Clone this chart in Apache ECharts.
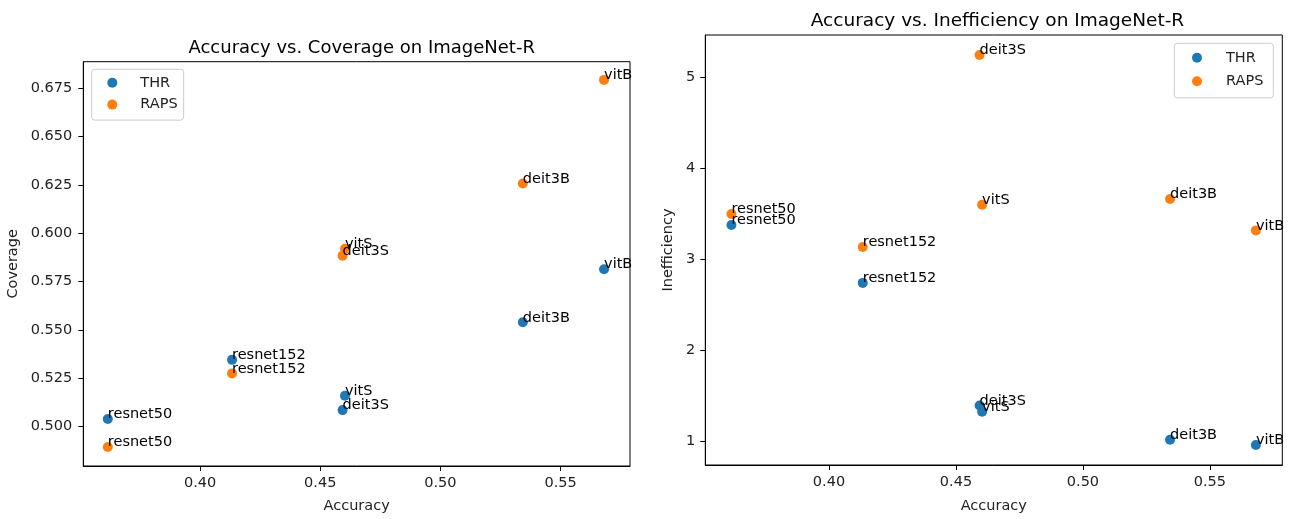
<!DOCTYPE html>
<html>
<head>
<meta charset="utf-8">
<script src="https://cdn.jsdelivr.net/npm/echarts@6/dist/echarts.min.js"></script>
<style>
html,body{margin:0;padding:0;background:#fff;}
#chart{width:1292px;height:519px;}
</style>
</head>
<body>
<div id="chart"></div>
<script>
// ---- data ----
const models = ['resnet50', 'resnet152', 'deit3S', 'vitS', 'deit3B', 'vitB'];
const accuracy = [0.3616, 0.4133, 0.4593, 0.4603, 0.5343, 0.5681];
const coverageTHR = [0.5039, 0.5345, 0.5085, 0.5159, 0.5539, 0.5814];
const coverageRAPS = [0.4894, 0.5275, 0.5884, 0.5919, 0.6257, 0.6793];
const ineffTHR = [3.375, 2.739, 1.392, 1.323, 1.015, 0.956];
const ineffRAPS = [3.496, 3.134, 5.245, 3.598, 3.661, 3.316];
const methods = ['THR', 'RAPS'];
const xTicks = [0.40, 0.45, 0.50, 0.55];
const xTickLabels = ['0.40', '0.45', '0.50', '0.55'];
const covTicks = [0.500, 0.525, 0.550, 0.575, 0.600, 0.625, 0.650, 0.675];
const covTickLabels = ['0.500', '0.525', '0.550', '0.575', '0.600', '0.625', '0.650', '0.675'];
const ineffTicks = [1, 2, 3, 4, 5];
const ineffTickLabels = ['1', '2', '3', '4', '5'];
const titles = ['Accuracy vs. Coverage on ImageNet-R', 'Accuracy vs. Inefficiency on ImageNet-R'];

// ---- styles ----
const FONT = 'DejaVu Sans';
const TICK_FS = 14.5;
const colors = ['#1f77b4', '#ff7f0e'];

function pts(ys) { return accuracy.map((a, i) => [a, ys[i], models[i]]); }
function mapLabel(ticks, labels) {
  return v => { for (let i = 0; i < ticks.length; i++) if (Math.abs(ticks[i] - v) < 1e-9) return labels[i]; return ''; };
}
function valueAxis(extra, ticks, labels, margin) {
  return Object.assign({
    type: 'value',
    scale: true,
    splitLine: { show: false },
    axisLine: { show: true, onZero: false, lineStyle: { color: '#000', width: 1 } },
    axisTick: { show: true, length: 5, lineStyle: { color: '#000' }, customValues: ticks },
    axisLabel: { customValues: ticks, formatter: mapLabel(ticks, labels), color: '#222',
      fontFamily: FONT, fontSize: TICK_FS, margin: margin },
    nameTextStyle: { color: '#222', fontFamily: FONT, fontSize: TICK_FS }
  }, extra);
}
function scatter(name, idx, data, color) {
  return {
    name: name, type: 'scatter', xAxisIndex: idx, yAxisIndex: idx,
    symbol: 'circle', symbolSize: 10,
    itemStyle: { color: color, opacity: 1 },
    data: data,
    label: {
      show: true, formatter: p => p.data[2],
      position: [5, 8], align: 'left', verticalAlign: 'bottom',
      color: '#000', fontFamily: FONT, fontSize: TICK_FS
    },
    emphasis: { disabled: true }
  };
}

const chart = echarts.init(document.getElementById('chart'), null, { renderer: 'canvas' });
chart.setOption({
  backgroundColor: '#fff',
  animation: false,
  title: [
    { text: titles[0], left: 356.7, top: 34, textAlign: 'center',
      textStyle: { fontFamily: FONT, fontSize: 18, fontWeight: 'normal', color: '#000' } },
    { text: titles[1], left: 992.5, top: 7, textAlign: 'center',
      textStyle: { fontFamily: FONT, fontSize: 18.5, fontWeight: 'normal', color: '#000' } }
  ],
  legend: [
    { data: methods, left: 91.7, top: 69.3, orient: 'vertical', icon: 'circle',
      itemWidth: 10, itemHeight: 17, itemGap: 6.8,
      padding: [6, 6, 8, 15.6], borderColor: '#cccccc', borderWidth: 1, borderRadius: 3,
      backgroundColor: '#fff',
      textStyle: { fontFamily: FONT, fontSize: TICK_FS, color: '#222', padding: [0, 0, 0, 18] } },
    { data: methods, left: 1174.3, top: 43.3, orient: 'vertical', icon: 'circle',
      itemWidth: 10, itemHeight: 17, itemGap: 8.5,
      padding: [7, 10, 9, 17.7], borderColor: '#cccccc', borderWidth: 1, borderRadius: 3,
      backgroundColor: '#fff',
      textStyle: { fontFamily: FONT, fontSize: TICK_FS, color: '#222', padding: [0, 0, 0, 19] } }
  ],
  grid: [
    { left: 83.3, top: 61.7, width: 546.7, height: 407.3, show: true, borderColor: '#000', borderWidth: 1 },
    { left: 705.3, top: 35, width: 577, height: 430.7, show: true, borderColor: '#000', borderWidth: 1 }
  ],
  xAxis: [
    valueAxis({ gridIndex: 0, min: 0.3514, max: 0.5789, name: 'Accuracy', nameLocation: 'middle', nameGap: 33 }, xTicks, xTickLabels, 10),
    valueAxis({ gridIndex: 1, min: 0.3513, max: 0.5785, name: 'Accuracy', nameLocation: 'middle', nameGap: 34 }, xTicks, xTickLabels, 10)
  ],
  yAxis: [
    valueAxis({ gridIndex: 0, min: 0.4796, max: 0.6887, name: 'Coverage', nameLocation: 'middle', nameGap: 63 }, covTicks, covTickLabels, 11),
    valueAxis({ gridIndex: 1, min: 0.737, max: 5.464, name: 'Inefficiency', nameLocation: 'middle', nameGap: 30 }, ineffTicks, ineffTickLabels, 10)
  ],
  series: [
    scatter(methods[0], 0, pts(coverageTHR), colors[0]),
    scatter(methods[1], 0, pts(coverageRAPS), colors[1]),
    scatter(methods[0], 1, pts(ineffTHR), colors[0]),
    scatter(methods[1], 1, pts(ineffRAPS), colors[1])
  ]
});
</script>
</body>
</html>
